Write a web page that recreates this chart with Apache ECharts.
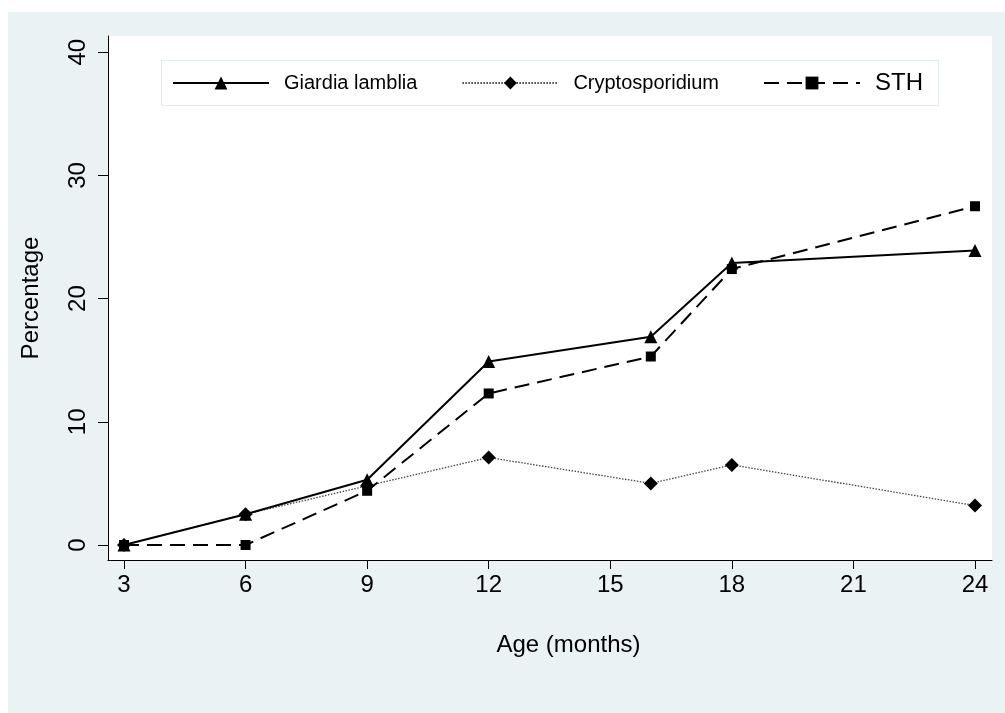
<!DOCTYPE html>
<html>
<head>
<meta charset="utf-8">
<script src="https://cdn.jsdelivr.net/npm/echarts@6/dist/echarts.min.js"></script>
<style>
  html, body { margin: 0; padding: 0; background: #ffffff; }
  #chart { width: 1005px; height: 713px; }
</style>
</head>
<body>
<div id="chart"></div>
<script>
// Prevalence of intestinal parasites by age
const ages = [3, 6, 9, 12, 16, 18, 24];
const giardia = [0, 2.5, 5.3, 14.9, 16.9, 22.9, 23.9];
const crypto = [0, 2.5, 4.8, 7.1, 5.0, 6.5, 3.2];
const sth = [0, 0, 4.4, 12.3, 15.3, 22.4, 27.5];
const xTicks = [3, 6, 9, 12, 15, 18, 21, 24];
const yTicks = [0, 10, 20, 30, 40];

const FONT = '"Liberation Sans", Arial, Helvetica, sans-serif';
const pairs = ys => ages.map((a, i) => [a, ys[i]]);

const chart = echarts.init(document.getElementById('chart'), null, { renderer: 'canvas' });

chart.setOption({
  animation: false,
  textStyle: { fontFamily: FONT, color: '#000' },
  graphic: [
    { type: 'rect', z: -10, shape: { x: 8, y: 12, width: 997, height: 701 },
      style: { fill: 'rgb(234,242,243)' } },
    { type: 'rect', z: 10, shape: { x: 161.5, y: 60.5, width: 777, height: 45 },
      style: { fill: '#ffffff', stroke: '#e2ebed', lineWidth: 1 } }
  ],
  grid: {
    left: 108, top: 36, right: 13, bottom: 153,
    show: true, backgroundColor: '#ffffff', borderWidth: 0
  },
  legend: {
    z: 20,
    left: 172, top: 71,
    itemWidth: 96, itemHeight: 16, itemGap: 44,
    padding: 0,
    textStyle: { fontFamily: FONT, fontSize: 20, color: '#000', padding: [0, 0, 0, 10],
      rich: { big: { fontFamily: FONT, fontSize: 24, color: '#000' } } },
    formatter: name => name === 'STH' ? '{big|STH}' : name,
    data: ['Giardia lamblia', 'Cryptosporidium', 'STH']
  },
  xAxis: {
    type: 'value',
    min: 2.605, max: 24.42,
    name: 'Age (months)',
    nameLocation: 'middle',
    nameGap: 73,
    nameTextStyle: { fontFamily: FONT, fontSize: 24, color: '#000', padding: [0, 0, 0, 37] },
    axisLine: { show: true, onZero: false, lineStyle: { color: '#000', width: 1 } },
    axisTick: { show: true, length: 9, lineStyle: { color: '#000' }, customValues: xTicks },
    axisLabel: { fontFamily: FONT, fontSize: 24, color: '#000', margin: 13, customValues: xTicks },
    splitLine: { show: false }
  },
  yAxis: {
    type: 'value',
    min: -1.22, max: 41.32,
    name: 'Percentage',
    nameLocation: 'middle',
    nameRotate: 90,
    nameGap: 65,
    nameTextStyle: { fontFamily: FONT, fontSize: 24, color: '#000' },
    axisLine: { show: true, onZero: false, lineStyle: { color: '#000', width: 1 } },
    axisTick: { show: true, length: 10, lineStyle: { color: '#000' }, customValues: yTicks },
    axisLabel: { fontFamily: FONT, fontSize: 24, color: '#000', margin: 18, rotate: 90, customValues: yTicks },
    splitLine: { show: false }
  },
  series: [
    {
      name: 'Cryptosporidium', type: 'line', data: pairs(crypto), z: 3,
      symbol: 'diamond', symbolSize: 14, showAllSymbol: true,
      itemStyle: { color: '#000' },
      lineStyle: { color: '#444', width: 1.3, type: [1.5, 1.5] }
    },
    {
      name: 'STH', type: 'line', data: pairs(sth), z: 4,
      symbol: 'rect', symbolSize: 10, showAllSymbol: true,
      itemStyle: { color: '#000' },
      lineStyle: { color: '#000', width: 2, type: [15, 8] }
    },
    {
      name: 'Giardia lamblia', type: 'line', data: pairs(giardia), z: 5,
      symbol: 'triangle', symbolSize: 13, showAllSymbol: true,
      itemStyle: { color: '#000' },
      lineStyle: { color: '#000', width: 2 }
    }
  ]
});
</script>
</body>
</html>
